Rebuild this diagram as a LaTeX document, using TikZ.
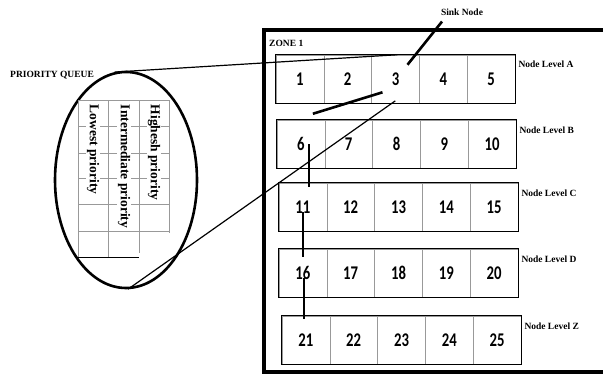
\documentclass[tikz,border=0pt]{standalone}
\usepackage{fontspec}
\setmainfont{Liberation Serif}
\newfontfamily\numfont{Carlito}
\usetikzlibrary{shapes.geometric}

\tikzset{
  cell/.style   = {draw=gray!80, line width=0.6pt, minimum width=47.8pt, minimum height=48.5pt,
                   inner sep=0pt, font=\numfont\bfseries\fontsize{15.5}{16}\selectfont},
  rowbox/.style = {draw=black, line width=1.1pt},
  lvl/.style    = {font=\bfseries\fontsize{9.5}{10}\selectfont, inner sep=0pt},
  prio/.style   = {rotate=-90, anchor=west, fill=white, inner sep=0.6pt,
                   font=\bfseries\fontsize{13.5}{14}\selectfont},
  link/.style   = {line width=2.6pt},
  thinlink/.style = {line width=1.2pt}
}

\begin{document}
\begin{tikzpicture}[x=1pt,y=-1pt]

\useasboundingbox (0,0) rectangle (603,380);

% zone frame
\draw[line width=4pt] (603,30) -- (264,30) -- (264,372) -- (603,372);
\node[lvl, anchor=west] (zone) at (269,43) {ZONE 1};

% node levels
\foreach \row/\lx/\ty [count=\r from 0] in {A/276/55, B/277/120, C/279/183, D/279/249, Z/282/316}
{
  \foreach \k in {1,...,5}
  {
    \pgfmathtruncatemacro\n{\r*5+\k}
    \node[cell] (c\n) at (\lx+\k*47.8-23.9, \ty+24.3) {\scalebox{0.95}[1.25]{\n}};
  }
  \pgfmathtruncatemacro\first{\r*5+1}
  \pgfmathtruncatemacro\last{\r*5+5}
  \draw[rowbox] (c\first.north west) rectangle (c\last.south east);
  \node[lvl, anchor=west] (lv\row) at ([xshift=3pt,yshift=-10pt]c\last.north east) {Node Level \row};
}

% sink
\node[lvl] (sink) at (462,12) {Sink Node};
\draw[link] ([xshift=-20pt,yshift=-6pt]sink.south) -- ([xshift=12pt,yshift=-10pt]c3.north);
\draw[link] ([xshift=-13pt,yshift=-13pt]c3.center) -- ([xshift=12pt,yshift=6pt]c6.north);

% chain down the first column
\draw[link] ([xshift=8pt]c6.center) -- ([xshift=6pt,yshift=-4pt]c11.north);
\draw[link] ([yshift=-5pt]c11.center) -- ([yshift=-8pt]c16.north);
\draw[link] ([xshift=1pt,yshift=-5pt]c16.center) -- ([xshift=-2pt,yshift=-3pt]c21.north);

% priority queue
\node[ellipse, draw, line width=2.6pt, minimum width=142pt, minimum height=216pt, inner sep=0pt] (pq) at (126,180) {};
\node[lvl, anchor=west] (pqlabel) at (10,75) {PRIORITY QUEUE};

\draw[gray!80, line width=0.6pt] (78,100) -- (78,257)  (108,100) -- (108,257)
  (139,100) -- (139,253)  (169,100) -- (169,233);
\foreach \y in {100,126,153,178,204,231}
  \draw[gray!80, line width=0.6pt] (78,\y) -- (169,\y);
\draw[line width=0.6pt] (78,257) -- (139,257);

\node[prio] (lowest)  at (93,104)  {Lowest priority};
\node[prio] (middle)  at (124,104) {Intermediate priority};
\node[prio] (highest) at (154,104) {Highesh priority};

% zoom lines
\draw[thinlink] (pq.96) -- ([xshift=26pt]c3.north west);
\draw[thinlink] ([xshift=24pt,yshift=3pt]c3.south west) -- (pq.271);

\end{tikzpicture}
\end{document}
